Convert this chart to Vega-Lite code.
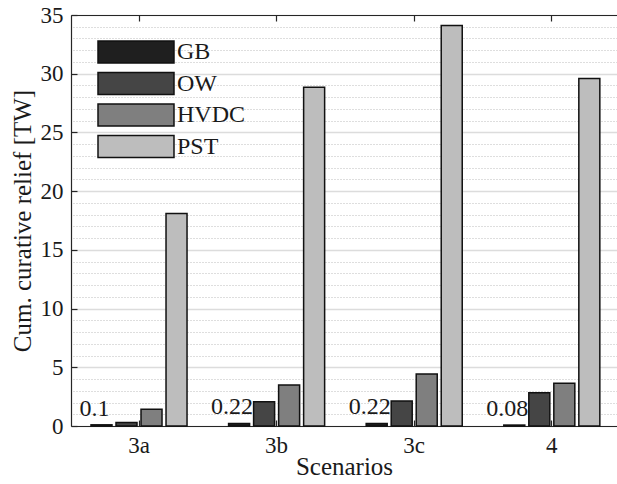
{
  "$schema": "https://vega.github.io/schema/vega-lite/v6.json",
  "width": 546,
  "height": 411,
  "autosize": "none",
  "padding": {"left": 71, "top": 15, "right": 0, "bottom": 58},
  "background": "white",
  "data": {
    "values": [
      {"scenario": "3a", "tech": "GB", "value": 0.1},
      {"scenario": "3a", "tech": "OW", "value": 0.3},
      {"scenario": "3a", "tech": "HVDC", "value": 1.42},
      {"scenario": "3a", "tech": "PST", "value": 18.1},
      {"scenario": "3b", "tech": "GB", "value": 0.22},
      {"scenario": "3b", "tech": "OW", "value": 2.07},
      {"scenario": "3b", "tech": "HVDC", "value": 3.49},
      {"scenario": "3b", "tech": "PST", "value": 28.85},
      {"scenario": "3c", "tech": "GB", "value": 0.22},
      {"scenario": "3c", "tech": "OW", "value": 2.13},
      {"scenario": "3c", "tech": "HVDC", "value": 4.43},
      {"scenario": "3c", "tech": "PST", "value": 34.1},
      {"scenario": "4", "tech": "GB", "value": 0.08},
      {"scenario": "4", "tech": "OW", "value": 2.84},
      {"scenario": "4", "tech": "HVDC", "value": 3.64},
      {"scenario": "4", "tech": "PST", "value": 29.6}
    ]
  },
  "config": {
    "view": {"stroke": null},
    "font": "Liberation Serif",
    "axis": {
      "labelFont": "Liberation Serif",
      "titleFont": "Liberation Serif",
      "labelColor": "#1a1a1a",
      "titleColor": "#1a1a1a",
      "titleFontWeight": "normal",
      "domainColor": "#262626",
      "tickColor": "#262626",
      "domainWidth": 1.2,
      "tickWidth": 1.2
    }
  },
  "resolve": {"axis": {"x": "independent", "y": "independent"}},
  "layer": [
    {
      "mark": {"type": "bar", "stroke": "#111111", "strokeWidth": 1.5},
      "encoding": {
        "x": {
          "field": "scenario",
          "type": "nominal",
          "sort": ["3a", "3b", "3c", "4"],
          "scale": {"paddingInner": 0.302, "paddingOuter": 0.135, "align": 0.538},
          "axis": {
            "orient": "bottom",
            "title": "Scenarios",
            "labelAngle": 0,
            "labelFont": "Liberation Serif",
            "titleFont": "Liberation Serif",
            "labelFontSize": 23,
            "titleFontSize": 25,
            "tickSize": -6,
            "labelPadding": 14,
            "titlePadding": -3,
            "grid": false
          }
        },
        "xOffset": {
          "field": "tech",
          "type": "nominal",
          "sort": ["GB", "OW", "HVDC", "PST"],
          "scale": {"paddingInner": 0.16, "paddingOuter": 0}
        },
        "y": {
          "field": "value",
          "type": "quantitative",
          "scale": {"domain": [0, 35], "nice": false},
          "axis": {
            "orient": "left",
            "values": [0, 5, 10, 15, 20, 25, 30, 35],
            "title": "Cum. curative relief [TW]",
            "labelFont": "Liberation Serif",
            "titleFont": "Liberation Serif",
            "labelFontSize": 23,
            "titleFontSize": 25,
            "tickSize": -6,
            "labelPadding": 14,
            "titlePadding": 5,
            "grid": true,
            "gridColor": "#dcdcdc",
            "gridWidth": 1.5
          }
        },
        "color": {
          "field": "tech",
          "type": "nominal",
          "scale": {
            "domain": ["GB", "OW", "HVDC", "PST"],
            "range": ["#1f1f1f", "#454545", "#7f7f7f", "#bdbdbd"]
          },
          "legend": {
            "orient": "none",
            "legendX": 49,
            "legendY": 21,
            "title": null,
            "symbolType": "M-2.5,-0.72H2.5V0.72H-2.5Z",
            "symbolSize": 924,
            "symbolStrokeColor": "#111111",
            "symbolStrokeWidth": 1.5,
            "symbolOpacity": 1,
            "labelFont": "Liberation Serif",
            "labelFontSize": 24,
            "labelColor": "#1a1a1a",
            "labelOffset": 25,
            "rowPadding": 1.5
          }
        }
      }
    },
    {
      "transform": [{"filter": "datum.tech === 'GB'"}],
      "mark": {"type": "text", "baseline": "bottom", "align": "center", "dx": -7, "dy": -4, "fontSize": 24, "font": "Liberation Serif", "color": "#1a1a1a"},
      "encoding": {
        "x": {"field": "scenario", "type": "nominal", "sort": ["3a", "3b", "3c", "4"], "axis": null},
        "xOffset": {"field": "tech", "type": "nominal", "sort": ["GB", "OW", "HVDC", "PST"]},
        "y": {"field": "value", "type": "quantitative", "axis": null},
        "text": {"field": "value", "type": "quantitative", "format": ".2~f"}
      }
    },
    {
      "mark": {"type": "bar", "opacity": 0},
      "encoding": {
        "x": {
          "field": "scenario",
          "type": "nominal",
          "sort": ["3a", "3b", "3c", "4"],
          "axis": {"orient": "top", "title": null, "labels": false, "tickSize": -6, "grid": false}
        },
        "y": {
          "field": "value",
          "type": "quantitative",
          "axis": {
            "orient": "right",
            "title": null,
            "labels": false,
            "ticks": false,
            "domain": false,
            "values": [1, 2, 3, 4, 6, 7, 8, 9, 11, 12, 13, 14, 16, 17, 18, 19, 21, 22, 23, 24, 26, 27, 28, 29, 31, 32, 33, 34],
            "grid": true,
            "gridColor": "#bdbdbd",
            "gridDash": [1, 2],
            "gridWidth": 1
          }
        }
      }
    }
  ]
}
